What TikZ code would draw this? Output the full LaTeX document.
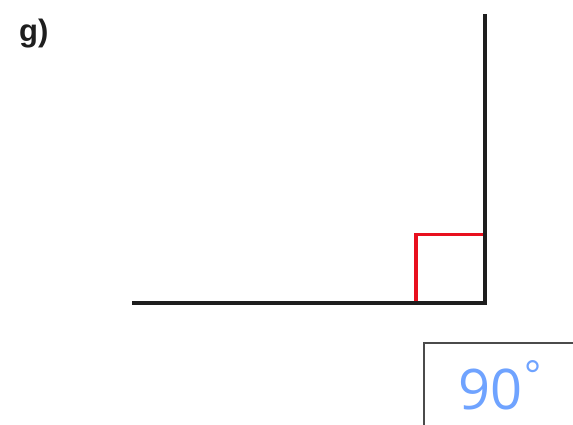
\documentclass[tikz,border=0pt]{standalone}
\usepackage{fontspec}
\setmainfont{Open Sans}
\newfontfamily\labelfont{Liberation Sans}
\definecolor{penblue}{HTML}{6FA3FF}
\definecolor{rred}{HTML}{E8101E}
\definecolor{ink}{HTML}{1E1E1E}
\tikzset{
  armline/.style={draw=ink, line width=3.3pt, line cap=rect},
  rightmark/.style={draw=rred, line width=3.2pt},
  answerbox/.style={draw=ink!80, line width=1.3pt},
}
\begin{document}
\begin{tikzpicture}[x=1pt,y=-1pt]
\useasboundingbox[fill=white] (0,0) rectangle (573,425);
\coordinate (top) at (485,16);
\coordinate (vertex) at (485,303);
\coordinate (left) at (134,303);
\coordinate (sq1) at (416,303);
\coordinate (sq2) at (416,234.5);
\coordinate (sq3) at (485,234.5);
\draw[rightmark] (sq1) -- (sq2) -- (sq3);
\draw[armline] (left) -- (vertex) -- (top);
\coordinate (boxa) at (424,430);
\coordinate (boxb) at (424,343);
\coordinate (boxc) at (580,343);
\draw[answerbox] (boxa) -- (boxb) -- (boxc);
\node[anchor=base west, font=\labelfont\bfseries\fontsize{31}{31}\selectfont, text=ink, inner sep=0] (label) at (19,42) {g)};
\node[anchor=base west, font=\fontsize{56}{56}\selectfont, text=penblue, inner sep=0] (answer) at (458,409) {90\kern2pt\raisebox{20pt}{\fontsize{40}{40}\selectfont °}};
\end{tikzpicture}
\end{document}
